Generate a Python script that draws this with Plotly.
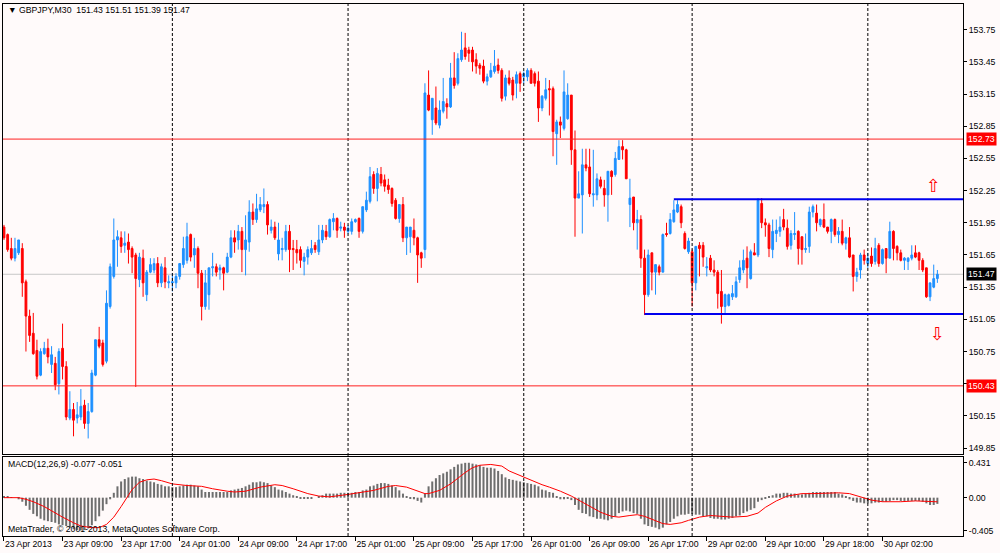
import plotly.graph_objects as go

# ---------------- data (GBPJPY, M30) ----------------
bar_open = [
    151.91, 151.84, 151.71, 151.62, 151.67, 151.71, 151.40, 151.08, 150.92, 150.76, 150.53, 150.73, 150.78, 150.63, 150.64, 150.45,
    150.78, 150.61, 150.13, 150.21, 150.13, 150.14, 150.25, 150.08, 150.19, 150.53, 150.86, 150.83, 150.66, 151.17, 151.45, 151.79,
    151.81, 151.74, 151.77, 151.71, 151.65, 151.42, 151.62, 151.28, 151.49, 151.51, 151.57, 151.39, 151.53, 151.39, 151.39, 151.39,
    151.45, 151.56, 151.60, 151.84, 151.65, 151.71, 151.48, 151.17, 151.28, 151.53, 151.54, 151.51, 151.53, 151.49, 151.63, 151.81,
    151.79, 151.87, 151.70, 151.77, 152.05, 151.98, 152.07, 152.10, 152.12, 151.88, 151.91, 151.66, 151.70, 151.70, 151.87, 151.71,
    151.70, 151.70, 151.59, 151.63, 151.67, 151.74, 151.68, 151.79, 151.87, 151.82, 151.96, 151.99, 151.90, 151.91, 151.87, 151.87,
    151.96, 151.99, 151.87, 152.07, 152.15, 152.40, 152.27, 152.40, 152.35, 152.30, 152.27, 152.16, 151.99, 152.12, 151.81, 151.82,
    151.88, 151.81, 151.67, 151.70, 153.14, 152.91, 153.02, 152.86, 152.99, 153.06, 153.03, 153.30, 153.25, 153.47, 153.58, 153.56,
    153.56, 153.47, 153.42, 153.41, 153.27, 153.31, 153.36, 153.42, 153.37, 153.13, 153.30, 153.28, 153.25, 153.34, 153.31, 153.31,
    153.37, 153.34, 153.27, 153.02, 153.11, 153.20, 153.20, 152.78, 152.89, 152.83, 152.92, 153.14, 152.63, 152.18, 152.21, 152.49,
    152.47, 152.21, 152.21, 152.35, 152.27, 152.21, 152.43, 152.40, 152.54, 152.66, 152.63, 152.12, 152.19, 151.95, 151.98, 151.62,
    151.28, 151.67, 151.49, 151.54, 151.49, 151.85, 151.85, 151.96, 152.05, 152.10, 151.85, 151.68, 151.68, 151.39, 151.74, 151.74,
    151.53, 151.62, 151.51, 151.49, 151.31, 151.17, 151.18, 151.26, 151.26, 151.42, 151.51, 151.62, 151.43, 151.67, 151.65, 152.13,
    151.95, 151.93, 151.70, 151.85, 151.87, 151.98, 151.90, 151.74, 151.84, 151.87, 151.82, 151.70, 151.73, 152.05, 152.04, 151.93,
    151.98, 151.91, 151.87, 151.98, 151.84, 151.87, 151.76, 151.81, 151.65, 151.45, 151.51, 151.65, 151.57, 151.64, 151.59, 151.74,
    151.57, 151.71, 151.62, 151.87, 151.73, 151.67, 151.60, 151.59, 151.62, 151.67, 151.67, 151.60, 151.53, 151.26, 151.35, 151.43,
]
bar_high = [
    151.93, 151.85, 151.81, 151.81, 151.79, 151.76, 151.42, 151.14, 151.11, 150.86, 150.78, 150.84, 150.87, 150.80, 150.70, 150.78,
    151.01, 150.66, 150.38, 150.27, 150.28, 150.40, 150.30, 150.27, 150.58, 150.86, 150.98, 150.86, 151.32, 151.57, 151.99, 151.88,
    151.87, 151.87, 151.85, 151.73, 151.67, 151.67, 151.70, 151.51, 151.62, 151.62, 151.63, 151.57, 151.63, 151.46, 151.48, 151.48,
    151.57, 151.82, 151.95, 151.85, 151.81, 151.73, 151.51, 151.51, 151.53, 151.67, 151.57, 151.56, 151.54, 151.67, 151.88, 151.88,
    151.93, 151.91, 152.02, 152.16, 152.13, 152.22, 152.19, 152.27, 152.15, 151.98, 151.96, 151.95, 151.81, 151.93, 151.93, 151.79,
    151.79, 151.73, 151.67, 151.73, 151.79, 151.77, 151.93, 151.93, 151.93, 151.99, 152.04, 152.00, 151.96, 151.95, 151.93, 151.99,
    151.99, 152.00, 152.10, 152.24, 152.47, 152.43, 152.46, 152.47, 152.40, 152.36, 152.28, 152.18, 152.12, 152.19, 151.91, 151.91,
    151.99, 151.82, 151.68, 153.25, 153.37, 153.11, 153.22, 153.09, 153.30, 153.11, 153.44, 153.54, 153.53, 153.73, 153.72, 153.59,
    153.59, 153.53, 153.44, 153.47, 153.34, 153.44, 153.56, 153.48, 153.39, 153.33, 153.37, 153.31, 153.36, 153.36, 153.36, 153.39,
    153.39, 153.36, 153.36, 153.14, 153.30, 153.28, 153.22, 152.91, 152.94, 153.37, 153.25, 153.14, 152.81, 152.43, 152.64, 152.64,
    152.64, 152.63, 152.41, 152.38, 152.35, 152.43, 152.44, 152.61, 152.72, 152.72, 152.64, 152.36, 152.19, 152.07, 152.02, 151.70,
    151.70, 151.67, 151.56, 151.56, 151.85, 151.95, 152.04, 152.16, 152.16, 152.12, 151.87, 151.81, 151.70, 151.73, 151.77, 151.77,
    151.63, 151.65, 151.60, 151.51, 151.51, 151.29, 151.29, 151.37, 151.45, 151.60, 151.70, 151.73, 151.70, 151.76, 152.18, 152.18,
    151.99, 151.95, 151.98, 151.98, 152.01, 152.08, 151.98, 151.88, 152.05, 151.88, 151.82, 151.85, 152.10, 152.12, 152.12, 151.99,
    152.13, 151.91, 151.99, 151.99, 151.91, 151.98, 151.82, 151.91, 151.65, 151.53, 151.67, 151.70, 151.67, 151.72, 151.81, 151.76,
    151.71, 151.71, 151.96, 151.88, 151.74, 151.70, 151.63, 151.63, 151.74, 151.74, 151.68, 151.62, 151.53, 151.39, 151.56, 151.51,
]
bar_low = [
    151.79, 151.68, 151.60, 151.59, 151.65, 151.26, 150.75, 150.84, 150.72, 150.49, 150.52, 150.72, 150.64, 150.55, 150.39, 150.35,
    150.49, 150.11, 150.11, 149.96, 150.08, 150.11, 150.03, 149.94, 150.18, 150.52, 150.78, 150.61, 150.64, 151.15, 151.43, 151.54,
    151.67, 151.67, 151.57, 151.48, 150.42, 151.35, 151.26, 151.22, 151.48, 151.48, 151.35, 151.35, 151.34, 151.34, 151.31, 151.34,
    151.42, 151.53, 151.57, 151.59, 151.53, 151.34, 151.04, 151.14, 151.14, 151.45, 151.45, 151.42, 151.32, 151.48, 151.62, 151.67,
    151.70, 151.49, 151.46, 151.68, 151.93, 151.95, 152.05, 152.04, 151.84, 151.85, 151.79, 151.60, 151.60, 151.68, 151.49, 151.51,
    151.57, 151.53, 151.46, 151.56, 151.65, 151.67, 151.65, 151.76, 151.79, 151.81, 151.88, 151.81, 151.87, 151.81, 151.85, 151.84,
    151.95, 151.81, 151.85, 152.05, 152.13, 152.22, 152.15, 152.29, 152.24, 152.22, 152.10, 151.98, 151.95, 151.77, 151.65, 151.67,
    151.74, 151.39, 151.53, 151.62, 152.99, 152.77, 152.86, 152.83, 152.97, 152.92, 153.02, 153.20, 153.23, 153.45, 153.47, 153.45,
    153.36, 153.34, 153.33, 153.25, 153.23, 153.30, 153.34, 153.34, 153.08, 153.09, 153.23, 153.09, 153.11, 153.17, 153.25, 153.27,
    153.25, 153.22, 152.89, 152.99, 153.09, 152.95, 152.57, 152.49, 152.74, 152.81, 152.91, 152.49, 151.82, 152.18, 151.85, 152.43,
    152.19, 152.10, 152.16, 152.27, 152.10, 151.96, 152.21, 152.38, 152.54, 152.54, 152.36, 151.91, 151.88, 151.70, 151.53, 151.09,
    151.26, 151.32, 151.28, 151.46, 151.49, 151.82, 151.84, 151.95, 152.04, 151.90, 151.70, 151.66, 151.17, 151.32, 151.45, 151.54,
    151.45, 151.49, 151.45, 151.15, 151.01, 151.11, 151.17, 151.23, 151.25, 151.39, 151.48, 151.34, 151.42, 151.65, 151.63, 151.90,
    151.82, 151.63, 151.62, 151.77, 151.82, 151.88, 151.70, 151.70, 151.79, 151.56, 151.56, 151.67, 151.67, 152.00, 151.87, 151.91,
    151.90, 151.85, 151.76, 151.82, 151.76, 151.74, 151.70, 151.62, 151.31, 151.40, 151.43, 151.56, 151.53, 151.54, 151.56, 151.54,
    151.56, 151.48, 151.62, 151.60, 151.60, 151.59, 151.51, 151.51, 151.60, 151.62, 151.51, 151.49, 151.25, 151.22, 151.34, 151.39,
]
bar_close = [
    151.81, 151.70, 151.62, 151.71, 151.79, 151.39, 151.08, 150.90, 150.73, 150.52, 150.75, 150.78, 150.70, 150.72, 150.44, 150.75,
    150.61, 150.14, 150.21, 150.11, 150.16, 150.24, 150.08, 150.19, 150.55, 150.86, 150.80, 150.63, 151.20, 151.54, 151.79, 151.82,
    151.73, 151.76, 151.70, 151.63, 151.43, 151.63, 151.39, 151.49, 151.56, 151.57, 151.39, 151.54, 151.40, 151.40, 151.40, 151.45,
    151.57, 151.71, 151.82, 151.63, 151.71, 151.48, 151.17, 151.39, 151.53, 151.54, 151.49, 151.53, 151.48, 151.63, 151.81, 151.77,
    151.87, 151.70, 151.79, 152.05, 151.98, 152.08, 152.12, 152.12, 151.93, 151.91, 151.81, 151.79, 151.71, 151.87, 151.70, 151.70,
    151.67, 151.60, 151.63, 151.70, 151.71, 151.70, 151.79, 151.88, 151.82, 151.98, 151.99, 151.88, 151.91, 151.88, 151.90, 151.96,
    151.98, 151.87, 152.10, 152.16, 152.38, 152.27, 152.41, 152.32, 152.29, 152.26, 152.13, 151.99, 152.12, 151.81, 151.91, 151.91,
    151.81, 151.65, 151.62, 153.16, 153.00, 153.11, 152.88, 153.00, 153.08, 153.03, 153.30, 153.23, 153.48, 153.56, 153.50, 153.53,
    153.45, 153.41, 153.39, 153.27, 153.31, 153.37, 153.41, 153.37, 153.11, 153.30, 153.25, 153.14, 153.33, 153.25, 153.34, 153.37,
    153.25, 153.25, 153.02, 153.13, 153.19, 153.19, 152.80, 152.89, 152.86, 153.17, 153.14, 152.63, 152.18, 152.22, 152.49, 152.46,
    152.22, 152.22, 152.36, 152.29, 152.21, 152.43, 152.38, 152.55, 152.66, 152.63, 152.36, 152.18, 151.95, 151.98, 151.62, 151.28,
    151.65, 151.49, 151.56, 151.49, 151.84, 151.84, 151.98, 152.07, 152.12, 151.95, 151.71, 151.78, 151.39, 151.73, 151.71, 151.63,
    151.54, 151.51, 151.49, 151.29, 151.17, 151.28, 151.28, 151.29, 151.40, 151.53, 151.60, 151.53, 151.68, 151.65, 152.16, 151.95,
    151.93, 151.71, 151.87, 151.88, 151.91, 151.91, 151.73, 151.85, 151.85, 151.71, 151.70, 151.71, 152.05, 152.10, 151.95, 151.98,
    151.91, 151.87, 151.98, 151.84, 151.87, 151.76, 151.81, 151.63, 151.45, 151.49, 151.65, 151.60, 151.62, 151.57, 151.71, 151.57,
    151.70, 151.62, 151.87, 151.71, 151.67, 151.60, 151.62, 151.62, 151.65, 151.63, 151.60, 151.51, 151.26, 151.39, 151.43, 151.47,
]

# MACD(12,26,9) histogram, one value per bar
macd_hist = [
    0.02, 0.01, 0.005, 0.0, -0.02, -0.05, -0.10, -0.15, -0.20, -0.23, -0.26, -0.28, -0.29, -0.30, -0.31, -0.33,
    -0.34, -0.35, -0.37, -0.39, -0.40, -0.405, -0.40, -0.38, -0.34, -0.29, -0.23, -0.16, -0.08, -0.02, 0.06, 0.14,
    0.20, 0.23, 0.25, 0.26, 0.26, 0.24, 0.23, 0.21, 0.20, 0.19, 0.17, 0.16, 0.14, 0.14, 0.13, 0.13,
    0.14, 0.15, 0.16, 0.16, 0.15, 0.14, 0.10, 0.07, 0.07, 0.07, 0.07, 0.07, 0.07, 0.07, 0.09, 0.10,
    0.11, 0.12, 0.14, 0.16, 0.19, 0.19, 0.20, 0.19, 0.18, 0.15, 0.13, 0.10, 0.09, 0.07, 0.05, 0.03,
    0.01, -0.005, -0.01, -0.01, -0.01, 0.0, 0.01, 0.03, 0.05, 0.05, 0.05, 0.05, 0.06, 0.06, 0.06, 0.06,
    0.07, 0.07, 0.09, 0.10, 0.14, 0.15, 0.17, 0.18, 0.18, 0.17, 0.15, 0.13, 0.09, 0.05, 0.02, -0.01,
    -0.02, -0.04, -0.06, 0.05, 0.14, 0.20, 0.24, 0.28, 0.30, 0.32, 0.35, 0.38, 0.41, 0.42, 0.43, 0.431,
    0.42, 0.41, 0.40, 0.38, 0.37, 0.37, 0.36, 0.33, 0.29, 0.25, 0.23, 0.22, 0.21, 0.20, 0.19, 0.18,
    0.17, 0.16, 0.14, 0.10, 0.09, 0.07, 0.06, 0.01, -0.02, -0.02, -0.01, -0.03, -0.09, -0.15, -0.19, -0.20,
    -0.23, -0.24, -0.26, -0.26, -0.27, -0.28, -0.26, -0.23, -0.19, -0.17, -0.16, -0.17, -0.19, -0.20, -0.26, -0.33,
    -0.35, -0.36, -0.37, -0.39, -0.37, -0.33, -0.30, -0.26, -0.23, -0.21, -0.21, -0.20, -0.20, -0.21, -0.21, -0.23,
    -0.23, -0.25, -0.26, -0.26, -0.27, -0.27, -0.26, -0.25, -0.23, -0.22, -0.19, -0.17, -0.15, -0.13, -0.05, -0.03,
    -0.01, 0.01, 0.03, 0.05, 0.05, 0.06, 0.06, 0.05, 0.05, 0.04, 0.04, 0.05, 0.06, 0.07, 0.07, 0.07,
    0.07, 0.07, 0.07, 0.07, 0.05, 0.04, 0.01, -0.02, -0.04, -0.06, -0.06, -0.07, -0.07, -0.07, -0.06, -0.06,
    -0.05, -0.05, -0.04, -0.03, -0.03, -0.04, -0.04, -0.04, -0.04, -0.04, -0.04, -0.05, -0.07, -0.09, -0.09, -0.077,
]

# signal line, read at these bars
signal_idx = [0, 4, 6, 8, 11, 14, 16, 19, 21, 24, 26, 28, 30, 32, 34, 35, 37, 39, 41, 43, 46, 50, 54, 57,
              61, 63, 66, 70, 74, 76, 79, 83, 86, 89, 94, 97, 101, 105, 107, 110, 113, 115, 116, 119, 122,
              125, 126, 128, 130, 133, 136, 138, 141, 144, 147, 149, 152, 155, 157, 160, 163, 166, 168, 171,
              173, 175, 177, 180, 182, 185, 187, 190, 193, 196, 199, 203, 206, 208, 211, 214, 218, 221, 225,
              228, 231, 234, 237, 240, 245, 249, 253, 255]
signal_val = [0.0, 0.0, -0.02, -0.05, -0.11, -0.19, -0.24, -0.31, -0.35, -0.37, -0.37, -0.33, -0.24, -0.11,
              0.02, 0.10, 0.19, 0.22, 0.23, 0.21, 0.17, 0.15, 0.14, 0.11, 0.08, 0.07, 0.08, 0.13, 0.16, 0.15,
              0.11, 0.05, 0.02, 0.01, 0.04, 0.06, 0.09, 0.14, 0.15, 0.13, 0.08, 0.05, 0.05, 0.09, 0.17, 0.28,
              0.31, 0.37, 0.40, 0.41, 0.39, 0.33, 0.27, 0.21, 0.16, 0.13, 0.08, 0.02, -0.03, -0.10, -0.18,
              -0.23, -0.24, -0.22, -0.21, -0.23, -0.27, -0.32, -0.33, -0.31, -0.28, -0.24, -0.22, -0.23, -0.24,
              -0.23, -0.19, -0.12, -0.04, 0.02, 0.05, 0.05, 0.06, 0.06, 0.05, 0.01, -0.03, -0.05, -0.05, -0.04,
              -0.05, -0.051]

tick_bars = [0, 16, 32, 48, 64, 80, 96, 112, 128, 144, 160, 176, 192, 208, 224, 240]
tick_text = ["23 Apr 2013", "23 Apr 09:00", "23 Apr 17:00", "24 Apr 01:00", "24 Apr 09:00",
             "24 Apr 17:00", "25 Apr 01:00", "25 Apr 09:00", "25 Apr 17:00", "26 Apr 01:00",
             "26 Apr 09:00", "26 Apr 17:00", "29 Apr 02:00", "29 Apr 10:00", "29 Apr 18:00",
             "30 Apr 02:00"]
day_starts = [46, 94, 142, 188, 236]

price_ticks = [149.85, 150.15, 150.45, 150.75, 151.05, 151.35, 151.65, 151.95,
               152.25, 152.55, 152.85, 153.15, 153.45, 153.75]
hidden_tick = 150.45  # sits under the 150.43 level box
macd_ticks = [0.431, 0.0, -0.405]
macd_tick_text = ["0.431", "0.00", "-0.405"]

red_levels = [152.73, 150.43]
last_price = 151.47
upper_start, upper_level = 183, 152.17
lower_start, lower_level = 175, 151.10
up_arrow = (254, 152.30)
down_arrow = (255, 150.92)

header = "\u25bc GBPJPY,M30\u00a0\u00a0151.43 151.51 151.39 151.47"
macd_label = "MACD(12,26,9) -0.077 -0.051"
copyright = "MetaTrader, \u00a9 2001-2013, MetaQuotes Software Corp."

# ---------------- figure ----------------
W, H = 1000, 553
BG = "#fffafa"
FONT = "Liberation Sans"


def py(px):
    # pixel row -> paper fraction
    return 1 - px / H


bars = list(range(len(bar_close)))
x_right = 262.0

fig = go.Figure()

fig.add_trace(go.Candlestick(
    x=bars, open=bar_open, high=bar_high, low=bar_low, close=bar_close,
    increasing=dict(line=dict(color="#1e90ff", width=1), fillcolor="#1e90ff"),
    decreasing=dict(line=dict(color="#ff0000", width=1), fillcolor="#ff0000"),
    whiskerwidth=0, xaxis="x", yaxis="y", hoverinfo="skip"))

fig.add_trace(go.Bar(x=bars, y=macd_hist, width=0.55,
                     marker=dict(color="#6e6e6e", line=dict(width=0)),
                     xaxis="x2", yaxis="y2", hoverinfo="skip"))

fig.add_trace(go.Scatter(x=signal_idx, y=signal_val, mode="lines",
                         line=dict(color="#ff0000", width=1),
                         xaxis="x2", yaxis="y2", hoverinfo="skip"))

axis_common = dict(showgrid=False, zeroline=False, showline=True, mirror=True,
                   linecolor="black", linewidth=1)

fig.update_layout(
    width=W, height=H,
    margin=dict(l=0, r=0, t=0, b=0),
    paper_bgcolor=BG, plot_bgcolor=BG,
    showlegend=False,
    font=dict(family=FONT, size=8.7, color="black"),
    xaxis=dict(domain=[0.003, 0.963], range=[-0.27, x_right], anchor="y",
               showticklabels=False, ticks="", rangeslider=dict(visible=False),
               **axis_common),
    yaxis=dict(domain=[py(454), py(4)], range=[149.795, 153.989], anchor="x",
               side="right", tickvals=price_ticks,
               ticktext=["" if v == hidden_tick else f"{v:.2f}" for v in price_ticks],
               ticks="outside", ticklen=3, tickcolor="black", **axis_common),
    xaxis2=dict(domain=[0.003, 0.963], range=[-0.27, x_right], anchor="y2",
                matches="x", tickvals=tick_bars, ticktext=tick_text,
                ticks="outside", ticklen=4, tickcolor="black",
                ticklabelposition="outside right", **axis_common),
    yaxis2=dict(domain=[py(536), py(457)], range=[-0.473, 0.502], anchor="x2",
                side="right", tickvals=macd_ticks, ticktext=macd_tick_text,
                ticks="outside", ticklen=3, tickcolor="black", **axis_common),
)

# period separators
for d in day_starts:
    fig.add_shape(type="line", xref="x", yref="paper", x0=d, x1=d,
                  y0=py(536), y1=py(4),
                  line=dict(color="black", width=1, dash="3px,2px"))

# horizontal levels
for lv in red_levels:
    fig.add_shape(type="line", xref="paper", yref="y", x0=0.003, x1=0.963,
                  y0=lv, y1=lv, line=dict(color="#ff2020", width=1))
fig.add_shape(type="line", xref="paper", yref="y", x0=0.003, x1=0.963,
              y0=last_price, y1=last_price, line=dict(color="#c8c8c8", width=1),
              layer="below")

# channel lines
fig.add_shape(type="line", xref="x", yref="y", x0=upper_start, x1=x_right,
              y0=upper_level, y1=upper_level, line=dict(color="#0000ee", width=2))
fig.add_shape(type="line", xref="x", yref="y", x0=lower_start, x1=x_right,
              y0=lower_level, y1=lower_level, line=dict(color="#0000ee", width=2))

# price boxes on the right scale
for val, bg in [(red_levels[0], "#ff0000"), (red_levels[1], "#ff0000"), (last_price, "black")]:
    fig.add_annotation(xref="paper", yref="y", x=0.966, y=val, xanchor="left",
                       yanchor="middle", text=f"{val:.2f}", showarrow=False,
                       bgcolor=bg, borderpad=1,
                       font=dict(family=FONT, size=8.7, color="white"))

# arrows
fig.add_annotation(xref="x", yref="y", x=up_arrow[0], y=up_arrow[1], text="\u21e7",
                   showarrow=False, font=dict(family="DejaVu Sans", size=18, color="#ff0000"))
fig.add_annotation(xref="x", yref="y", x=down_arrow[0], y=down_arrow[1], text="\u21e9",
                   showarrow=False, font=dict(family="DejaVu Sans", size=18, color="#ff0000"))

# texts
fig.add_annotation(xref="paper", yref="paper", x=0.006, y=py(10), xanchor="left",
                   yanchor="middle", text=header, showarrow=False)
fig.add_annotation(xref="paper", yref="paper", x=0.006, y=py(464), xanchor="left",
                   yanchor="middle", text=macd_label, showarrow=False)
fig.add_annotation(xref="paper", yref="paper", x=0.006, y=py(529), xanchor="left",
                   yanchor="middle", text=copyright, showarrow=False)

fig.write_html("out.html", config={"displayModeBar": False},
               post_script="document.body.style.margin='0';document.body.style.overflow='hidden';")
